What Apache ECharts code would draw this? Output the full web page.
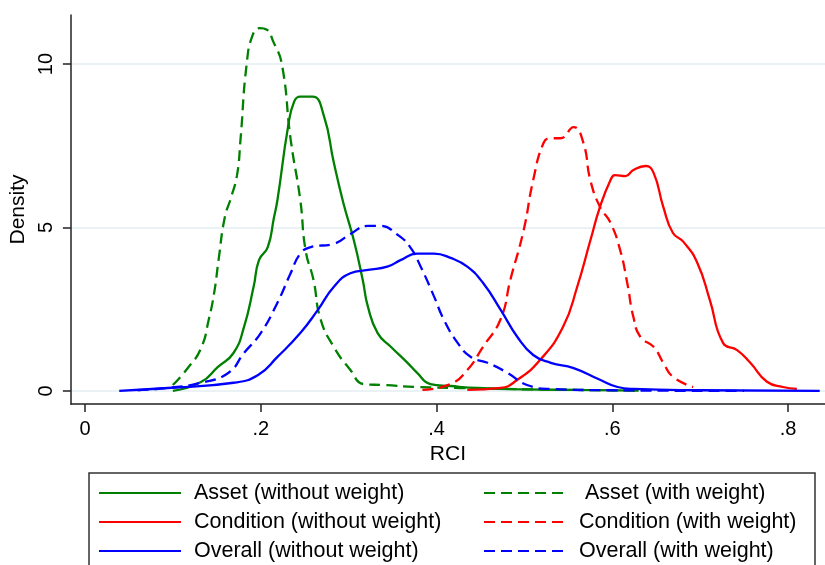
<!DOCTYPE html>
<html>
<head>
<meta charset="UTF-8">
<title>RCI density</title>
<script src="https://cdn.jsdelivr.net/npm/echarts@6.0.0/dist/echarts.min.js"></script>
<style>
  html, body { margin: 0; padding: 0; background: #fff; }
  #main { width: 825px; height: 565px; }
</style>
</head>
<body>
<div id="main"></div>
<script>
// kernel density curves as [RCI, density]
var assetNoWeight = [
    [0.100, 0.00], [0.132, 0.27], [0.151, 0.73], [0.169, 1.16], [0.181, 1.96],
    [0.192, 3.2], [0.198, 4.0], [0.208, 4.4], [0.215, 5.3], [0.219, 5.84],
    [0.231, 8.07], [0.238, 8.85], [0.245, 9.0], [0.259, 9.0], [0.272, 8.4],
    [0.283, 7.0], [0.294, 5.75], [0.306, 4.6], [0.316, 3.4], [0.322, 2.57],
    [0.333, 1.77], [0.348, 1.35], [0.367, 0.86], [0.378, 0.55], [0.393, 0.21],
    [0.416, 0.15], [0.447, 0.09], [0.50, 0.05], [0.56, 0.03], [0.63, 0.01]
];
var assetWeight = [
    [0.100, 0.18], [0.117, 0.7], [0.132, 1.3], [0.141, 2.2], [0.147, 3.0],
    [0.152, 4.0], [0.159, 5.3], [0.166, 5.9], [0.173, 6.6], [0.177, 7.7],
    [0.184, 10.0], [0.191, 10.9], [0.199, 11.1], [0.207, 11.05], [0.214, 10.7],
    [0.224, 10.0], [0.234, 7.7], [0.245, 5.84], [0.251, 4.3], [0.260, 3.4],
    [0.268, 2.2], [0.283, 1.35], [0.302, 0.64], [0.317, 0.21], [0.340, 0.18],
    [0.378, 0.12], [0.427, 0.09], [0.50, 0.05], [0.56, 0.03], [0.63, 0.01]
];
var conditionNoWeight = [
    [0.435, 0.03], [0.473, 0.09], [0.492, 0.34], [0.518, 0.95], [0.544, 1.96],
    [0.560, 3.18], [0.575, 4.6], [0.586, 5.63], [0.598, 6.45], [0.603, 6.6],
    [0.615, 6.57], [0.624, 6.76], [0.638, 6.88], [0.647, 6.67], [0.658, 5.63],
    [0.669, 4.83], [0.681, 4.56], [0.697, 3.9], [0.711, 2.78], [0.726, 1.47],
    [0.742, 1.25], [0.757, 0.86], [0.776, 0.28], [0.794, 0.12], [0.810, 0.06]
];
var conditionWeight = [
    [0.384, 0.03], [0.416, 0.21], [0.435, 0.64], [0.453, 1.35], [0.473, 2.2],
    [0.484, 3.4], [0.499, 4.9], [0.510, 6.45], [0.522, 7.6], [0.530, 7.73],
    [0.541, 7.73], [0.556, 8.07], [0.567, 7.6], [0.575, 6.45], [0.586, 5.63],
    [0.598, 5.14], [0.609, 4.3], [0.617, 3.3], [0.624, 2.26], [0.632, 1.65],
    [0.647, 1.35], [0.658, 0.86], [0.669, 0.43], [0.692, 0.12]
];
var overallNoWeight = [
    [0.039, 0.00], [0.094, 0.09], [0.169, 0.25], [0.197, 0.49], [0.219, 1.04],
    [0.245, 1.77], [0.265, 2.48], [0.283, 3.18], [0.302, 3.6], [0.322, 3.7],
    [0.344, 3.8], [0.359, 4.0], [0.378, 4.2], [0.397, 4.2], [0.416, 4.07],
    [0.435, 3.8], [0.453, 3.3], [0.473, 2.48], [0.492, 1.65], [0.510, 1.1],
    [0.530, 0.86], [0.556, 0.7], [0.586, 0.34], [0.606, 0.12], [0.624, 0.06],
    [0.70, 0.02], [0.836, 0.00]
];
var overallWeight = [
    [0.060, 0.02], [0.094, 0.09], [0.132, 0.25], [0.163, 0.55], [0.181, 1.16],
    [0.200, 1.77], [0.219, 2.7], [0.234, 3.6], [0.245, 4.2], [0.257, 4.4],
    [0.283, 4.5], [0.302, 4.8], [0.322, 5.05], [0.336, 5.05], [0.356, 4.77],
    [0.370, 4.4], [0.382, 3.8], [0.397, 2.9], [0.408, 2.2], [0.424, 1.47],
    [0.439, 1.04], [0.458, 0.86], [0.481, 0.55], [0.503, 0.18], [0.530, 0.06],
    [0.60, 0.02], [0.75, 0.00]
];

var xTicks = [0, 0.2, 0.4, 0.6, 0.8];
var yTicks = [0, 5, 10];
var names = ['Asset (without weight)', ' Asset (with weight)',
             'Condition (without weight)', 'Condition (with weight)',
             'Overall (without weight)', 'Overall (with weight)'];

var font = 'Liberation Sans, Arial, sans-serif';
var dash = [11, 6];

function curve(name, data, color, dashed) {
    return {
        name: name,
        type: 'line',
        data: data,
        smooth: 0.5,
        showSymbol: false,
        symbol: 'none',
        silent: true,
        color: color,
        lineStyle: { color: color, width: 2.3, type: dashed ? dash : 'solid' }
    };
}

function legendCol(left, data) {
    return {
        left: left, top: 482,
        width: 320, height: 150,
        orient: 'vertical',
        padding: 0,
        data: data,
        itemWidth: 82, itemHeight: 20, itemGap: 7,
        selectedMode: false,
        itemStyle: { opacity: 0 },
        textStyle: { fontFamily: font, fontSize: 21.5, color: '#000', lineHeight: 20, padding: [0, 0, 0, 8] }
    };
}

var myChart = echarts.init(document.getElementById('main'), null, { renderer: 'canvas' });
var option = {
    backgroundColor: '#fff',
    animation: false,
    grid: { left: 70, top: 15, right: 0, bottom: 161, containLabel: false },
    xAxis: {
        type: 'value',
        min: -0.016,
        max: 0.842,
        name: 'RCI',
        nameLocation: 'middle',
        nameGap: 38,
        nameTextStyle: { fontFamily: font, fontSize: 21, color: '#000' },
        axisLine: { show: true, onZero: false, lineStyle: { color: '#222', width: 1.5 } },
        axisTick: { show: true, length: 8, customValues: xTicks, lineStyle: { color: '#222', width: 1.5 } },
        axisLabel: {
            customValues: xTicks,
            margin: 15,
            fontFamily: font, fontSize: 20, color: '#000',
            formatter: function (v) { return v === 0 ? '0' : String(v).replace(/^0/, ''); }
        },
        splitLine: { show: false }
    },
    yAxis: {
        type: 'value',
        min: -0.4,
        max: 11.5,
        name: 'Density',
        nameLocation: 'middle',
        nameGap: 35,
        nameTextStyle: { fontFamily: font, fontSize: 21, color: '#000' },
        axisLine: { show: true, onZero: false, lineStyle: { color: '#222', width: 1.5 } },
        axisTick: { show: true, length: 8, customValues: yTicks, lineStyle: { color: '#222', width: 1.5 } },
        axisLabel: {
            customValues: yTicks,
            rotate: 90,
            margin: 14,
            fontFamily: font, fontSize: 20, color: '#000'
        },
        splitLine: { show: true, lineStyle: { color: '#e4eef2', width: 1.5 } }
    },
    legend: [
        legendCol(98, [names[0], names[2], names[4]]),
        legendCol(483, [names[1], names[3], names[5]])
    ],
    graphic: [{
        type: 'rect',
        shape: { x: 89, y: 473, width: 726, height: 100 },
        style: { fill: 'none', stroke: '#333', lineWidth: 1.5 },
        silent: true
    }],
    series: [
        curve(names[0], assetNoWeight, '#008000', false),
        curve(names[1], assetWeight, '#008000', true),
        curve(names[2], conditionNoWeight, '#ff0000', false),
        curve(names[3], conditionWeight, '#ff0000', true),
        curve(names[4], overallNoWeight, '#0000ff', false),
        curve(names[5], overallWeight, '#0000ff', true)
    ]
};
myChart.setOption(option);
</script>
</body>
</html>
